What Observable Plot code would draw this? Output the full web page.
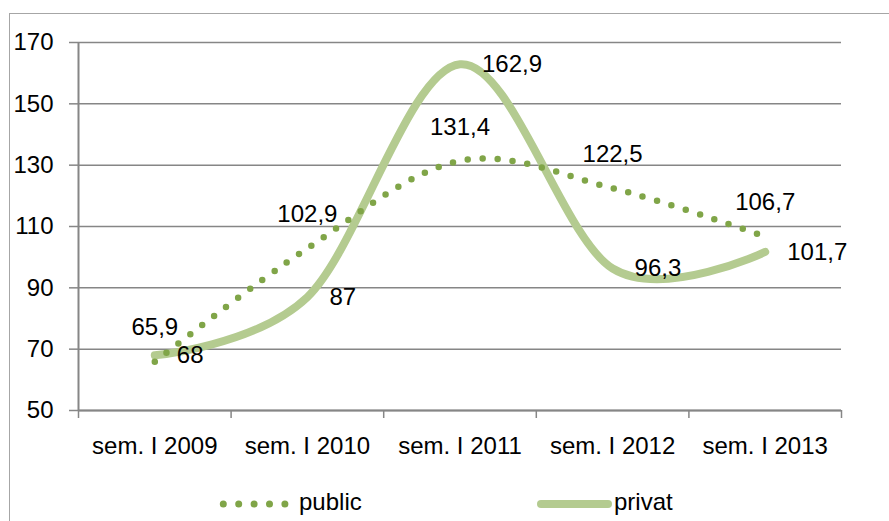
<!DOCTYPE html>
<html>
<head>
<meta charset="utf-8">
<script src="https://cdn.jsdelivr.net/npm/d3@7"></script>
<script src="https://cdn.jsdelivr.net/npm/@observablehq/plot@0.6"></script>
<style>
  html, body { margin: 0; padding: 0; background: #fff; overflow: hidden; }
  body { width: 889px; height: 521px; position: relative; font-family: "Liberation Sans", Arial, sans-serif; }
  #frame { position: absolute; left: 9px; top: 13px; width: 1000px; height: 700px;
           border-left: 1.5px solid #a6a6a6; border-top: 1.5px solid #a6a6a6; }
  #chart { position: absolute; left: 0; top: 0; }
  #legend { position: absolute; left: 0; top: 470px; width: 889px; height: 51px; }
</style>
</head>
<body>
<div id="frame"></div>
<div id="chart"></div>
<svg id="legend" width="889" height="51"></svg>
<script>
const categories = ["sem. I 2009", "sem. I 2010", "sem. I 2011", "sem. I 2012", "sem. I 2013"];
const publicValues = [65.9, 102.9, 131.4, 122.5, 106.7];
const privatValues = [68, 87, 162.9, 96.3, 101.7];
const yTicks = [50, 70, 90, 110, 130, 150, 170];
const seriesNames = ["public", "privat"];

const publicColor = "#80a548";
const privatColor = "#b4cb90";
const axisColor = "#868686";
const fontFamily = '"Liberation Sans", Arial, sans-serif';

const fmt = v => String(v).replace(".", ",");
const publicData = publicValues.map((v, i) => ({i, v}));
const privatData = privatValues.map((v, i) => ({i, v}));
const boundaries = d3.range(categories.length + 1).map(k => k - 0.5);

const chart = Plot.plot({
  width: 889,
  height: 470,
  marginLeft: 78,
  marginRight: 48,
  marginTop: 42,
  marginBottom: 60,
  style: {fontFamily, fontSize: "24px", color: "#000", background: "transparent"},
  x: {type: "linear", domain: [-0.5, categories.length - 0.5], label: null},
  y: {domain: [50, 170], label: null},
  marks: [
    Plot.gridY(yTicks, {stroke: axisColor, strokeOpacity: 1, strokeWidth: 1.5}),
    Plot.axisY(yTicks, {label: null, tickSize: 9, tickPadding: 16, stroke: axisColor, strokeWidth: 1.5, fill: "#000", fontSize: 24}),
    Plot.axisX(boundaries, {label: null, tickSize: 8, tickFormat: () => "", stroke: axisColor, strokeWidth: 1.5}),
    Plot.axisX(d3.range(categories.length), {label: null, tickSize: 0, tickPadding: 26, tickFormat: i => categories[i], fill: "#000", fontSize: 24}),
    Plot.ruleX([-0.5], {y1: 50, y2: 170, stroke: axisColor, strokeWidth: 2}),
    Plot.ruleY([50], {stroke: axisColor, strokeWidth: 2}),
    Plot.line(privatData, {x: "i", y: "v", curve: "cardinal", stroke: privatColor, strokeWidth: 8, strokeLinecap: "round", strokeLinejoin: "round"}),
    Plot.line(publicData, {x: "i", y: "v", curve: "cardinal", stroke: publicColor, strokeWidth: 6.5, strokeDasharray: "0 15", strokeLinecap: "round"}),
    Plot.text(publicData, {x: "i", y: "v", text: d => fmt(d.v), dy: -34, fontSize: 24, fill: "#000"}),
    Plot.text(privatData, {x: "i", y: "v", text: d => fmt(d.v), dx: 22, textAnchor: "start", fontSize: 24, fill: "#000"})
  ]
});
document.getElementById("chart").appendChild(chart);

// legend
const lg = d3.select("#legend");
const cy = 34;
lg.append("line").attr("x1", 223.3).attr("x2", 285.5).attr("y1", cy).attr("y2", cy)
  .attr("stroke", publicColor).attr("stroke-width", 7).attr("stroke-linecap", "round").attr("stroke-dasharray", "0 15.4");
lg.append("text").attr("x", 299).attr("y", cy + 6).attr("font-size", 24).attr("font-family", fontFamily).text(seriesNames[0]);
lg.append("line").attr("x1", 541).attr("x2", 608).attr("y1", cy).attr("y2", cy)
  .attr("stroke", privatColor).attr("stroke-width", 8).attr("stroke-linecap", "round");
lg.append("text").attr("x", 614).attr("y", cy + 6).attr("font-size", 24).attr("font-family", fontFamily).text(seriesNames[1]);
</script>
</body>
</html>
